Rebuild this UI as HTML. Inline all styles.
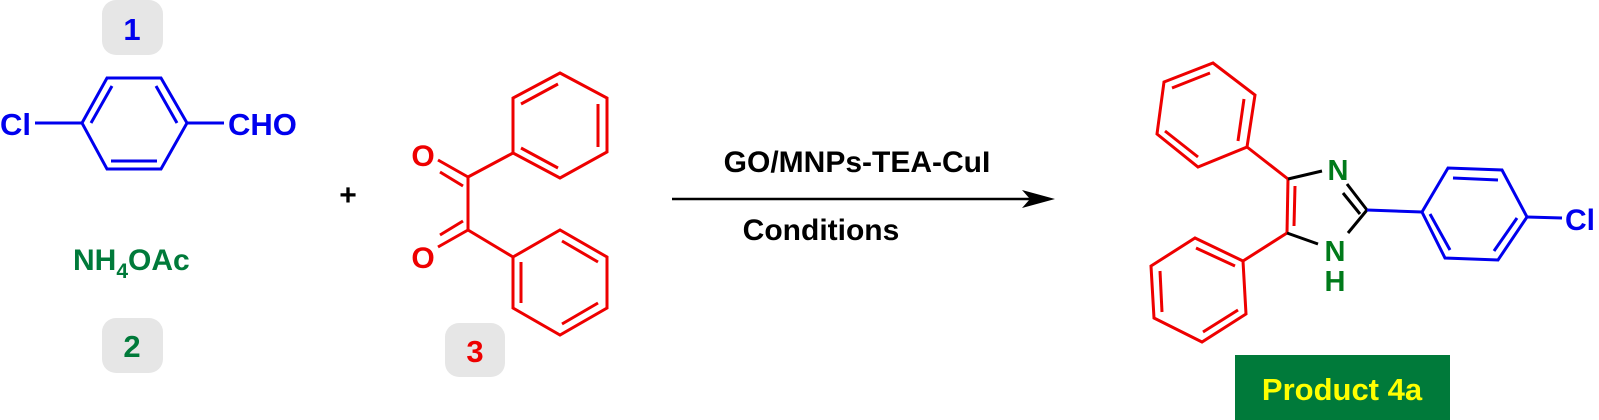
<!DOCTYPE html>
<html><head><meta charset="utf-8"><style>
body{margin:0;background:#fff;overflow:hidden;}
svg{display:block;}
text{font-family:"Liberation Sans",Arial,sans-serif;font-weight:bold;}
</style></head><body>
<svg width="1599" height="420" viewBox="0 0 1599 420" xmlns="http://www.w3.org/2000/svg">
<rect x="102" y="0" width="61" height="55" rx="14" fill="#e6e6e6"/>
<text x="132" y="40" font-size="31" fill="#0000ee" text-anchor="middle">1</text>
<rect x="102" y="318" width="61" height="55" rx="14" fill="#e6e6e6"/>
<text x="132" y="357" font-size="31" fill="#007a3a" text-anchor="middle">2</text>
<rect x="445" y="323" width="60" height="54" rx="14" fill="#e6e6e6"/>
<text x="475" y="362" font-size="31" fill="#ee0000" text-anchor="middle">3</text>

<g stroke="#0000ee" stroke-width="3" fill="none">
<polygon points="107,78 161,78 187,123 161,169 107,169 82,123"/>
<line x1="112" y1="86" x2="91" y2="123"/>
<line x1="156" y1="86" x2="177" y2="123"/>
<line x1="111" y1="161" x2="157" y2="161"/>
<line x1="35" y1="123" x2="82" y2="123"/>
<line x1="187" y1="123" x2="224" y2="123"/>
</g>
<text x="0" y="135" font-size="31" fill="#0000ee">Cl</text>
<text x="228" y="135" font-size="31" fill="#0000ee">CHO</text>

<text x="73" y="270" font-size="30" fill="#007a3a">NH<tspan font-size="21" dy="8">4</tspan><tspan dy="-8">OAc</tspan></text>
<text x="348" y="205" font-size="30" fill="#000" text-anchor="middle">+</text>

<g stroke="#ee0000" stroke-width="3" fill="none">
<line x1="468" y1="177" x2="468" y2="230"/>
<line x1="468" y1="177" x2="513" y2="153"/>
<line x1="468" y1="230" x2="513" y2="257"/>
<line x1="468" y1="177" x2="438" y2="160"/>
<line x1="463" y1="186" x2="440" y2="172"/>
<line x1="468" y1="230" x2="438" y2="247"/>
<line x1="463" y1="221" x2="440" y2="235"/>
<polygon points="513,153 513,98 560,73 607,98 607,152 560,178"/>
<line x1="521" y1="104" x2="558" y2="84"/>
<line x1="598" y1="104" x2="598" y2="147"/>
<line x1="521" y1="148" x2="558" y2="168"/>
<polygon points="513,257 560,230 607,257 607,308 560,335 513,308"/>
<line x1="562" y1="241" x2="598" y2="262"/>
<line x1="521" y1="262" x2="521" y2="303"/>
<line x1="562" y1="324" x2="598" y2="303"/>
</g>
<text x="423" y="166" font-size="30" fill="#ee0000" text-anchor="middle">O</text>
<text x="423" y="268" font-size="30" fill="#ee0000" text-anchor="middle">O</text>

<line x1="672" y1="199" x2="1030" y2="199" stroke="#000" stroke-width="2.5"/>
<polygon points="1055,199 1022,190 1030,199 1022,208" fill="#000"/>
<text x="857" y="172" font-size="30" fill="#000" text-anchor="middle">GO/MNPs-TEA-CuI</text>
<text x="821" y="240" font-size="30" fill="#000" text-anchor="middle">Conditions</text>

<g stroke="#ee0000" stroke-width="3" fill="none">
<polygon points="1164,82 1213,63 1255,95 1247,147 1198,167 1157,134"/>
<line x1="1172" y1="88" x2="1210" y2="73"/>
<line x1="1244" y1="99" x2="1238" y2="141"/>
<line x1="1165" y1="131" x2="1198" y2="157"/>
<line x1="1247" y1="147" x2="1288" y2="179"/>
<line x1="1288" y1="179" x2="1287" y2="233"/>
<line x1="1295" y1="186" x2="1294" y2="226"/>
<line x1="1287" y1="233" x2="1243" y2="261"/>
<polygon points="1243,261 1195,238 1151,266 1154,318 1202,342 1246,314"/>
<line x1="1196" y1="248" x2="1235" y2="266"/>
<line x1="1160" y1="271" x2="1162" y2="312"/>
<line x1="1203" y1="332" x2="1238" y2="310"/>
</g>
<g stroke="#000" stroke-width="3" fill="none">
<line x1="1288" y1="179" x2="1322" y2="171"/>
<line x1="1367" y1="210" x2="1347" y2="184"/>
<line x1="1360" y1="214" x2="1343" y2="193"/>
<line x1="1367" y1="210" x2="1348" y2="233"/>
<line x1="1287" y1="233" x2="1318" y2="244"/>
</g>
<g stroke="#0000ee" stroke-width="3" fill="none">
<line x1="1367" y1="210" x2="1422" y2="212"/>
<polygon points="1422,212 1448,168 1502,170 1527,217 1498,260 1445,258"/>
<line x1="1453" y1="178" x2="1498" y2="180"/>
<line x1="1517" y1="218" x2="1494" y2="251"/>
<line x1="1430" y1="214" x2="1450" y2="250"/>
<line x1="1527" y1="217" x2="1562" y2="218"/>
</g>
<text x="1338" y="180" font-size="29" fill="#007a1a" text-anchor="middle">N</text>
<text x="1335" y="261" font-size="29" fill="#007a1a" text-anchor="middle">N</text>
<text x="1335" y="291" font-size="29" fill="#007a1a" text-anchor="middle">H</text>
<text x="1565" y="230" font-size="30" fill="#0000ee">Cl</text>

<rect x="1235" y="355" width="215" height="65" fill="#007a3a"/>
<text x="1342" y="400" font-size="31" fill="#ffff00" text-anchor="middle">Product 4a</text>
</svg>
</body></html>
